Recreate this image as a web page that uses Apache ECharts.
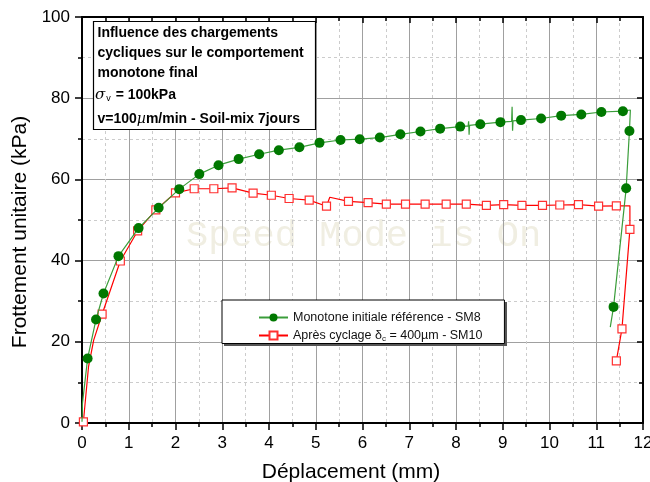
<!DOCTYPE html>
<html>
  <head>
    <meta charset="UTF-8" />
    <title>Frottement unitaire - déplacement</title>
    <script type="text/javascript" src="https://cdn.jsdelivr.net/npm/echarts@6/dist/echarts.min.js"></script>
    <style>
      html, body { margin: 0; padding: 0; background: #fff; }
      #main { width: 650px; height: 482px; }
    </style>
  </head>
  <body>
    <div id="main"></div>
    <script type="text/javascript">
      // courbe monotone initiale (SM8) - 1 = point avec marqueur
      var greenX = [0, 0.01, 0.12, 0.30, 0.46, 0.78, 1.21, 1.64, 2.08, 2.51, 2.92, 3.35, 3.79, 4.21, 4.65, 5.08, 5.53, 5.94, 6.37, 6.81, 7.24, 7.66, 8.09, 8.26, 8.27, 8.28, 8.29, 8.52, 8.95, 9.19, 9.20, 9.21, 9.22, 9.39, 9.82, 10.25, 10.68, 11.11, 11.57, 11.73, 11.71, 11.64, 11.37, 11.30];
      var greenY = [0.3, 4.9, 15.9, 25.5, 31.9, 41.1, 48.0, 53.0, 57.6, 61.3, 63.5, 65.0, 66.2, 67.2, 67.9, 69.0, 69.7, 69.9, 70.3, 71.1, 71.8, 72.5, 73.0, 73.2, 74.3, 71.0, 73.3, 73.6, 74.1, 74.3, 77.9, 72.0, 74.4, 74.6, 75.0, 75.7, 76.0, 76.6, 76.8, 77.1, 71.9, 57.8, 28.6, 23.6];
      var greenDot = [0, 0, 1, 1, 1, 1, 1, 1, 1, 1, 1, 1, 1, 1, 1, 1, 1, 1, 1, 1, 1, 1, 1, 0, 0, 0, 0, 1, 1, 0, 0, 0, 0, 1, 1, 1, 1, 1, 1, 0, 1, 1, 1, 0];

      // après cyclage (SM10)
      var redX = [0.03, 0.14, 0.25, 0.43, 0.82, 1.19, 1.58, 2.00, 2.40, 2.82, 3.21, 3.66, 4.05, 4.43, 4.86, 5.23, 5.30, 5.70, 6.12, 6.51, 6.92, 7.34, 7.79, 8.22, 8.65, 9.02, 9.41, 9.85, 10.22, 10.62, 11.05, 11.43, 11.72, 11.72, 11.55, 11.43];
      var redY = [0.3, 13.9, 20.4, 26.8, 39.9, 47.3, 52.5, 56.7, 57.7, 57.7, 57.9, 56.6, 56.1, 55.3, 54.9, 53.4, 55.6, 54.6, 54.3, 53.9, 53.9, 53.9, 53.9, 53.9, 53.6, 53.8, 53.6, 53.6, 53.7, 53.8, 53.4, 53.5, 53.5, 47.7, 23.2, 15.3];
      var redDot = [1, 0, 0, 1, 1, 1, 1, 1, 1, 1, 1, 1, 1, 1, 1, 1, 0, 1, 1, 1, 1, 1, 1, 1, 1, 1, 1, 1, 1, 1, 1, 1, 0, 1, 1, 1];

      var seriesNames = ["Monotone initiale référence - SM8", "Après cyclage δc = 400µm - SM10"];
      var xTicks = [0, 12, 1];
      var yTicks = [0, 100, 20];

      function buildData(xs, ys, dots) {
        var out = [];
        for (var i = 0; i < xs.length; i++) {
          var item = { value: [xs[i], ys[i]] };
          if (!dots[i]) item.symbol = "none";
          out.push(item);
        }
        return out;
      }

      var font = "Liberation Sans, Arial, sans-serif";
      var myChart = echarts.init(document.getElementById("main"));

      function axisBase(pos, main) {
        return {
          type: "value",
          position: pos,
          axisLine: { show: true, onZero: false, lineStyle: { color: "#000", width: 2 } },
          axisTick: { show: true, inside: !main, length: main ? 7 : 6, lineStyle: { color: "#000", width: 1.5 } },
          minorTick: { show: true, splitNumber: 2, length: 4, lineStyle: { color: "#000", width: 1.5 } },
          axisLabel: { show: main, color: "#000", fontSize: 17, fontFamily: font, margin: 12 },
          splitLine: { show: main, lineStyle: { color: "#a0a0a0", width: 1 } },
          minorSplitLine: { show: main, lineStyle: { color: "#cccccc", width: 1, type: [3, 3] } },
        };
      }

      var xMain = axisBase("bottom", true);
      var xTop = axisBase("top", false);
      [xMain, xTop].forEach(function (a) {
        a.min = xTicks[0]; a.max = xTicks[1]; a.interval = xTicks[2];
      });
      var yMain = axisBase("left", true);
      var yRight = axisBase("right", false);
      [yMain, yRight].forEach(function (a) {
        a.min = yTicks[0]; a.max = yTicks[1]; a.interval = yTicks[2];
      });

      var option = {
        animation: false,
        backgroundColor: "#fff",
        textStyle: { fontFamily: font },
        grid: { left: 82, right: 7, top: 17, bottom: 59, outerBoundsMode: "none", containLabel: false },
        xAxis: [xMain, xTop],
        yAxis: [yMain, yRight],
        legend: {
          left: 222,
          top: 300,
          orient: "vertical",
          backgroundColor: "#fff",
          borderColor: "#000",
          borderWidth: 1,
          borderRadius: 0,
          padding: [11, 22, 1, 36],
          itemWidth: 29,
          itemHeight: 10,
          itemGap: 5,
          data: seriesNames,
          formatter: function (name) {
            if (name.indexOf("δc") >= 0) {
              var parts = name.split("δc");
              return "{t|" + parts[0] + "δ}{sub|c}{t|" + parts[1] + "}";
            }
            return "{t|" + name + "}";
          },
          textStyle: {
            color: "#111",
            fontSize: 12.5,
            fontFamily: font,
            rich: {
              t: { fontSize: 12.5, fontFamily: font, color: "#111" },
              sub: { fontSize: 8, fontFamily: font, color: "#111", padding: [6, 0, 0, 0] },
            },
          },
        },
        graphic: [
          {
            type: "text",
            z: -10,
            left: 186,
            top: 218,
            silent: true,
            style: { text: "Speed Mode is On", font: "37px Liberation Mono, Courier New, monospace", fill: "#f0eee2" },
          },
          {
            // ombre du cadre de légende
            type: "rect",
            z: 3,
            shape: { x: 224, y: 302, width: 283, height: 44 },
            style: { fill: "#555" },
          },
          {
            type: "rect",
            z: 50,
            shape: { x: 93.5, y: 21.5, width: 222, height: 108 },
            style: { fill: "#fff", stroke: "#000", lineWidth: 1.2 },
          },
          { type: "text", z: 51, x: 97.5, y: 33.5, style: { text: "Influence des chargements", font: "bold 14px Liberation Sans", fill: "#000", textVerticalAlign: "middle" } },
          { type: "text", z: 51, x: 97.5, y: 53.5, style: { text: "cycliques sur le comportement", font: "bold 14px Liberation Sans", fill: "#000", textVerticalAlign: "middle" } },
          { type: "text", z: 51, x: 97.5, y: 73.5, style: { text: "monotone final", font: "bold 14px Liberation Sans", fill: "#000", textVerticalAlign: "middle" } },
          {
            type: "text", z: 51, x: 95, y: 95,
            style: {
              text: "{s|σ}{v|v}{b| = 100kPa}",
              textVerticalAlign: "middle",
              rich: {
                s: { font: "italic 15px DejaVu Serif", fill: "#000" },
                v: { font: "9px Liberation Sans", fill: "#000", padding: [8, 1, 0, 1] },
                b: { font: "bold 14px Liberation Sans", fill: "#000" },
              },
            },
          },
          {
            type: "text", z: 51, x: 97.5, y: 119.5,
            style: {
              text: "{b|v=100}{m|µ}{b|m/min - Soil-mix 7jours}",
              textVerticalAlign: "middle",
              rich: {
                b: { font: "bold 14px Liberation Sans", fill: "#000" },
                m: { font: "italic 14px DejaVu Serif", fill: "#000" },
              },
            },
          },
          {
            type: "text",
            x: 351, y: 472,
            style: { text: "Déplacement (mm)", font: "21px Liberation Sans", fill: "#000", textAlign: "center", textVerticalAlign: "middle" },
          },
          {
            type: "text",
            x: 20, y: 232, rotation: Math.PI / 2,
            style: { text: "Frottement unitaire (kPa)", font: "21px Liberation Sans", fill: "#000", textAlign: "center", textVerticalAlign: "middle" },
          },
        ],
        series: [
          {
            name: seriesNames[0],
            type: "line",
            data: buildData(greenX, greenY, greenDot),
            symbol: "circle",
            symbolSize: 10,
            showAllSymbol: true,
            itemStyle: { color: "#007800" },
            lineStyle: { color: "#3a9d3a", width: 1.2 },
            z: 3,
          },
          {
            name: seriesNames[1],
            type: "line",
            data: buildData(redX, redY, redDot),
            symbol: "rect",
            symbolSize: 8,
            showAllSymbol: true,
            itemStyle: { color: "#fff", borderColor: "#ff3030", borderWidth: 1.2 },
            lineStyle: { color: "#ff0000", width: 1.2 },
            z: 2,
          },
        ],
      };
      myChart.setOption(option);
    </script>
  </body>
</html>
